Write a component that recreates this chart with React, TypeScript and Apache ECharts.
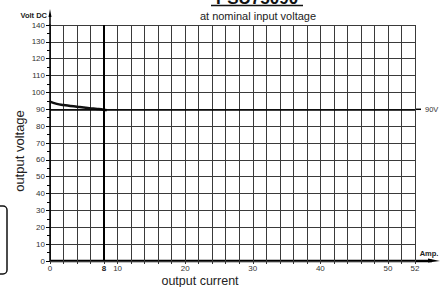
import React, { useEffect, useRef } from "react";
import * as echarts from "echarts";

const curveCurrent = [0, 1, 2, 3, 4, 5, 6, 7, 8, 8.4];
const curveVoltage = [94.5, 93.2, 92.5, 92.0, 91.5, 91.0, 90.6, 90.2, 89.7, 89.4];
const nominalVoltage = 90;
const maxCurrentLine = 8;
const xTickLabels: { value: number; label: string; bold?: boolean }[] = [
  { value: 0, label: "0" },
  { value: 8, label: "8", bold: true },
  { value: 10, label: "10" },
  { value: 20, label: "20" },
  { value: 30, label: "30" },
  { value: 40, label: "40" },
  { value: 50, label: "50" },
  { value: 54, label: "52" },
];

const FONT = "Liberation Sans, Arial, sans-serif";
const L = 50, T = 25, R = 415, B = 261, W = 445, H = 287;

export default function App() {
  const ref = useRef<HTMLDivElement>(null);
  useEffect(() => {
    if (!ref.current) return;
    const chart = echarts.init(ref.current, undefined, { renderer: "svg" });
    const labelMap: Record<number, { label: string; bold?: boolean }> = {};
    xTickLabels.forEach((t) => (labelMap[t.value] = t));
    chart.setOption({
      animation: false,
      backgroundColor: "#fff",
      textStyle: { fontFamily: FONT },
      grid: { left: L, top: T, right: W - R, bottom: H - B, containLabel: false },
      xAxis: [
        {
          type: "value",
          min: 0,
          max: 54,
          interval: 2,
          axisLine: { show: false },
          axisTick: { show: true, length: 3, lineStyle: { color: "#333" } },
          axisLabel: { show: false },
          splitLine: { show: true, lineStyle: { color: "#3a3a3a", width: 1 } },
        },
        {
          type: "value",
          min: 0,
          max: 54,
          interval: 1,
          position: "bottom",
          axisLine: { show: false },
          axisTick: { show: false },
          splitLine: { show: false },
          axisLabel: {
            show: true,
            interval: 0,
            margin: 3,
            fontSize: 8,
            color: "#333",
            fontFamily: FONT,
            formatter: (v: number) => {
              const t = labelMap[Math.round(v)];
              if (!t) return "";
              return t.bold ? "{b|" + t.label + "}" : t.label;
            },
            rich: { b: { fontWeight: "bold", fontSize: 8, color: "#222", fontFamily: FONT } },
          },
        },
      ],
      yAxis: {
        type: "value",
        min: 0,
        max: 140,
        interval: 10,
        axisLine: { show: true, lineStyle: { color: "#000", width: 1.5 } },
        axisTick: { show: true, length: 4, lineStyle: { color: "#000" } },
        minorTick: { show: true, splitNumber: 2, length: 3, lineStyle: { color: "#000" } },
        axisLabel: { fontSize: 8, color: "#333", margin: 5, fontFamily: FONT },
        splitLine: { show: true, lineStyle: { color: "#3a3a3a", width: 1 } },
      },
      series: [
        {
          type: "line",
          xAxisIndex: 0,
          color: "#111",
          data: curveCurrent.map((c, i) => [c, curveVoltage[i]]),
          smooth: true,
          showSymbol: false,
          lineStyle: { color: "#111", width: 2.5 },
          markLine: {
            silent: true,
            symbol: ["none", "none"],
            label: { color: "#333", fontSize: 7.5, fontFamily: FONT },
            lineStyle: { color: "#000" },
            data: [
              {
                yAxis: nominalVoltage,
                lineStyle: { color: "#000", width: 1.5, type: "solid" },
                label: {
                  show: true,
                  position: "end",
                  distance: 10,
                  formatter: nominalVoltage + "V",
                  fontSize: 7.5,
                  color: "#333",
                  fontFamily: FONT,
                },
              },
              {
                xAxis: maxCurrentLine,
                lineStyle: { color: "#000", width: 2, type: "solid" },
                label: { show: false },
              },
            ],
          },
        },
      ],
      graphic: [
        { type: "line", shape: { x1: L, y1: B, x2: 432, y2: B }, style: { stroke: "#000", lineWidth: 2.5 } },
        { type: "polygon", shape: { points: [[428, B - 2.5], [440, B], [428, B + 1.5]] }, style: { fill: "#000" } },
        { type: "line", shape: { x1: L, y1: T, x2: L, y2: 16 }, style: { stroke: "#000", lineWidth: 1.5 } },
        { type: "polygon", shape: { points: [[L - 1.5, 17], [L, 9], [L + 1.5, 17]] }, style: { fill: "#000" } },
        { type: "line", shape: { x1: R, y1: 0, x2: 421, y2: 0 }, style: { stroke: "#000", lineWidth: 1.5 }, id: "ext", invisible: true },
        {
          type: "text",
          x: 47,
          y: 15,
          style: { text: "Volt DC", font: "bold 7.5px " + FONT, fill: "#222", textAlign: "right", textVerticalAlign: "middle" },
        },
        {
          type: "text",
          x: 429,
          y: 253,
          style: { text: "Amp.", font: "bold 7.5px " + FONT, fill: "#222", textAlign: "center", textVerticalAlign: "middle" },
        },
        {
          type: "text",
          x: 257,
          y: 7,
          style: { text: "PSU75090", font: "bold 17px " + FONT, fill: "#111", textAlign: "center", textVerticalAlign: "bottom" },
        },
        { type: "line", shape: { x1: 211, y1: 5.5, x2: 303, y2: 5.5 }, style: { stroke: "#111", lineWidth: 1.5 } },
        {
          type: "text",
          x: 258,
          y: 16,
          style: { text: "at nominal input voltage", font: "11px " + FONT, fill: "#222", textAlign: "center", textVerticalAlign: "middle" },
        },
        {
          type: "text",
          x: 19.5,
          y: 151,
          rotation: Math.PI / 2,
          style: { text: "output voltage", font: "13px " + FONT, fill: "#222", textAlign: "center", textVerticalAlign: "middle" },
        },
        {
          type: "text",
          x: 200,
          y: 280.5,
          style: { text: "output current", font: "12.5px " + FONT, fill: "#222", textAlign: "center", textVerticalAlign: "middle" },
        },
        {
          type: "rect",
          shape: { x: -10, y: 206, width: 17, height: 68, r: 4 },
          style: { fill: "none", stroke: "#111", lineWidth: 1.5 },
        },
      ],
    });
    const p = chart.convertToPixel({ xAxisIndex: 0, yAxisIndex: 0 }, [54, nominalVoltage]) as number[];
    chart.setOption({
      graphic: [
        { id: "ext", type: "line", invisible: false, shape: { x1: p[0], y1: p[1], x2: p[0] + 6, y2: p[1] }, style: { stroke: "#000", lineWidth: 1.5 } },
      ],
    });
    return () => chart.dispose();
  }, []);
  return <div ref={ref} style={{ position: "fixed", left: 0, top: 0, width: W, height: H }} />;
}
